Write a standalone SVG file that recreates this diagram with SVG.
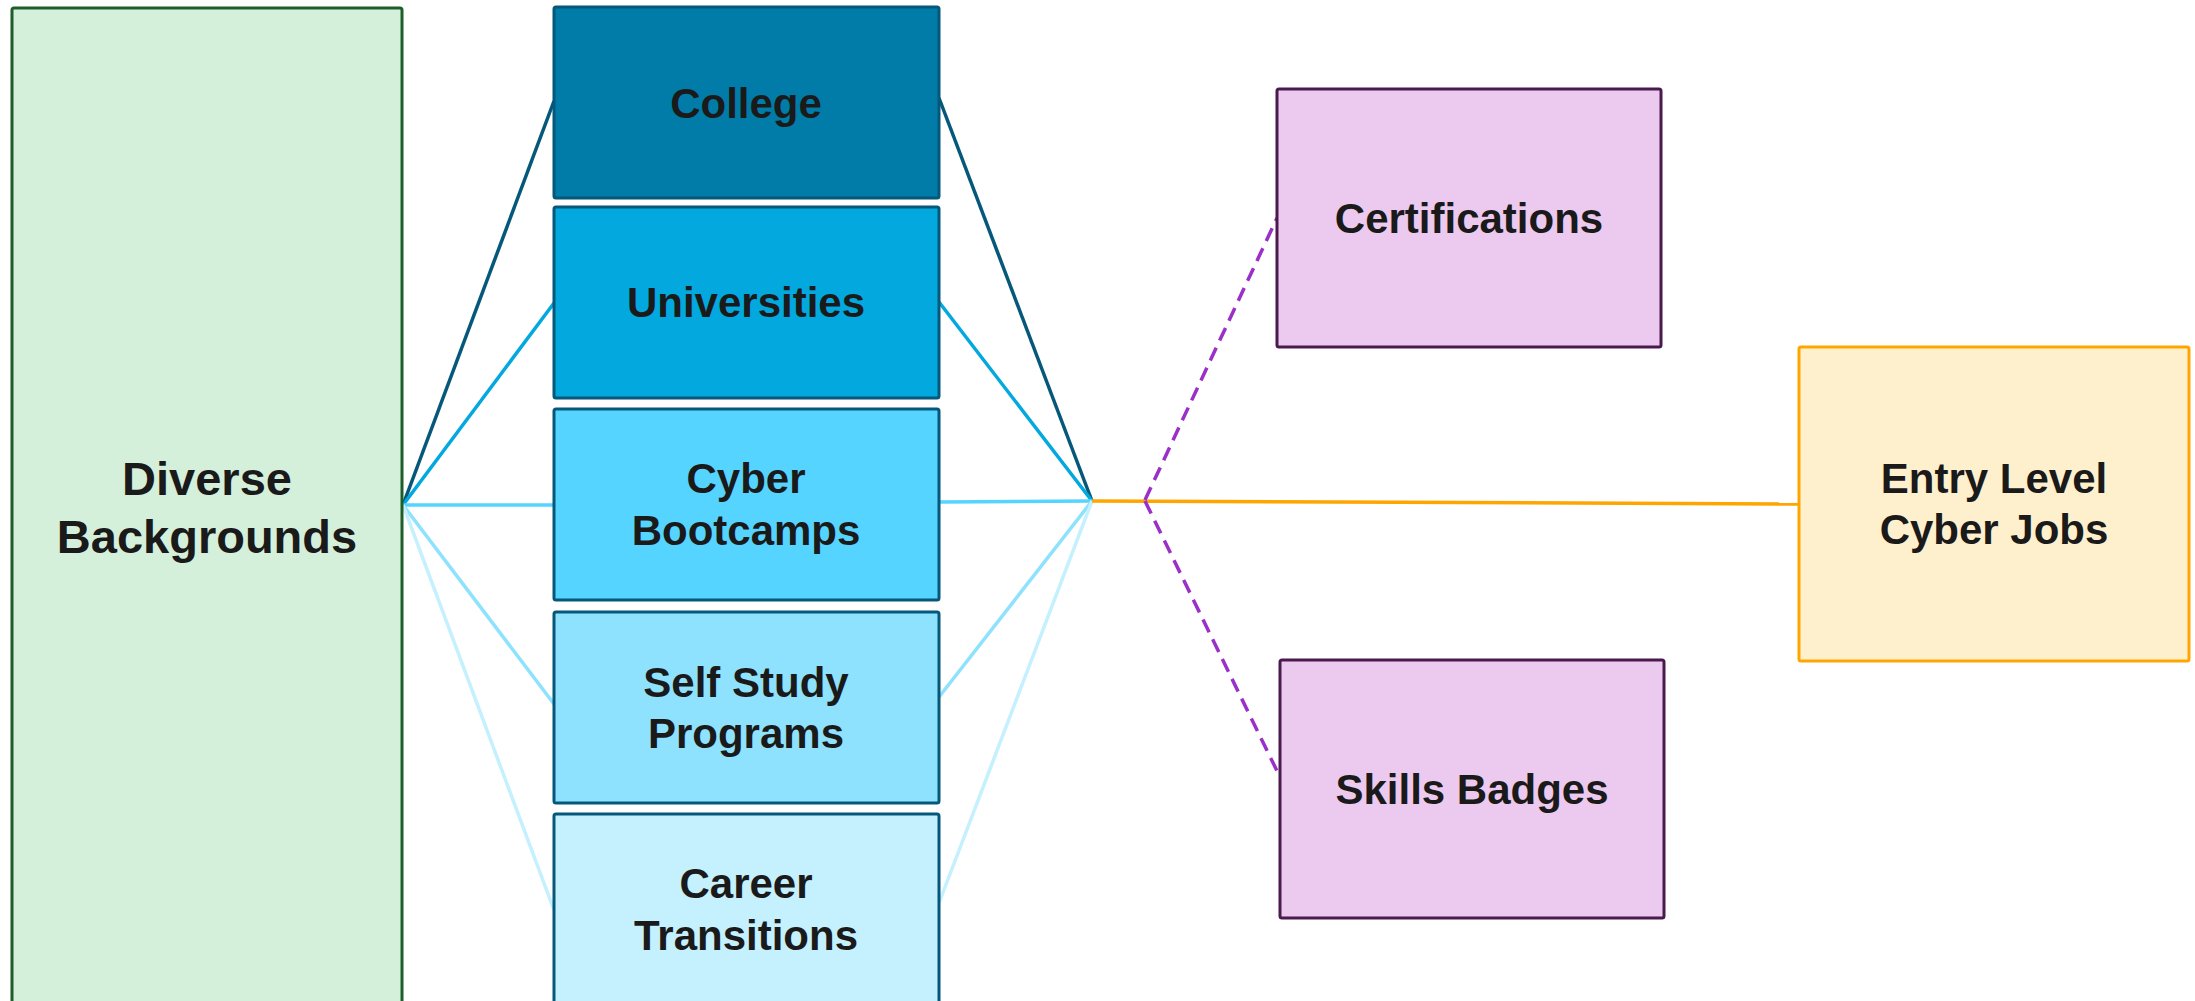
<svg xmlns="http://www.w3.org/2000/svg" width="2195" height="1001" viewBox="0 0 2195 1001">
<style>
text{font-family:"Liberation Sans",Arial,sans-serif;font-weight:bold;fill:#1a1a1a;text-anchor:middle}
.big{font-size:47px}
.lbl{font-size:42px}
.mid{stroke:#05587a;stroke-width:3}
.pur{fill:#ecc9ef;stroke:#4a1a4e;stroke-width:3}
.c{fill:none;stroke-width:3.5}
</style>
<rect width="2195" height="1001" fill="#ffffff"/>
<g id="connectors">
<line class="c" x1="403" y1="505" x2="554" y2="101" stroke="#05587a"/>
<line class="c" x1="403" y1="505" x2="554" y2="303" stroke="#02a8de"/>
<line class="c" x1="403" y1="505" x2="554" y2="505" stroke="#55d4ff"/>
<line class="c" x1="403" y1="505" x2="554" y2="704" stroke="#8ee2fe"/>
<line class="c" x1="403" y1="505" x2="554" y2="910" stroke="#c5f0fe"/>
<line class="c" x1="939" y1="98" x2="1092" y2="501" stroke="#05587a"/>
<line class="c" x1="939" y1="302" x2="1092" y2="501" stroke="#02a8de"/>
<line class="c" x1="939" y1="502" x2="1092" y2="501" stroke="#55d4ff"/>
<line class="c" x1="939" y1="697" x2="1092" y2="501" stroke="#8ee2fe"/>
<line class="c" x1="939" y1="903" x2="1092" y2="501" stroke="#c5f0fe"/>
<line class="c" x1="1092" y1="501" x2="1799" y2="504" stroke="#ffa500" stroke-width="4"/>
<line class="c" x1="1145" y1="500" x2="1277" y2="218" stroke="#9b30c8" stroke-dasharray="14 8"/>
<line class="c" x1="1145" y1="501" x2="1279" y2="775" stroke="#9b30c8" stroke-dasharray="14 8"/>
</g>
<g id="diverse">
<rect x="12" y="8" width="390" height="1000" rx="2" fill="#d5f0da" stroke="#1e5e2a" stroke-width="3"/>
<text class="big" x="207" y="495">Diverse</text>
<text class="big" x="207" y="553">Backgrounds</text>
</g>
<g id="college">
<rect class="mid" x="554" y="7" width="385" height="191" rx="2" fill="#017ca8"/>
<text class="lbl" x="746" y="118">College</text>
</g>
<g id="universities">
<rect class="mid" x="554" y="207" width="385" height="191" rx="2" fill="#02a8de"/>
<text class="lbl" x="746" y="317">Universities</text>
</g>
<g id="bootcamps">
<rect class="mid" x="554" y="409" width="385" height="191" rx="2" fill="#55d4ff"/>
<text class="lbl" x="746" y="493">Cyber</text>
<text class="lbl" x="746" y="545">Bootcamps</text>
</g>
<g id="selfstudy">
<rect class="mid" x="554" y="612" width="385" height="191" rx="2" fill="#8ee2fe"/>
<text class="lbl" x="746" y="697">Self Study</text>
<text class="lbl" x="746" y="748">Programs</text>
</g>
<g id="career">
<rect class="mid" x="554" y="814" width="385" height="194" rx="2" fill="#c5f0fe"/>
<text class="lbl" x="746" y="898">Career</text>
<text class="lbl" x="746" y="950">Transitions</text>
</g>
<g id="certifications">
<rect class="pur" x="1277" y="89" width="384" height="258" rx="2"/>
<text class="lbl" x="1469" y="233">Certifications</text>
</g>
<g id="badges">
<rect class="pur" x="1280" y="660" width="384" height="258" rx="2"/>
<text class="lbl" x="1472" y="804">Skills Badges</text>
</g>
<g id="jobs">
<rect x="1799" y="347" width="390" height="314" rx="2" fill="#fff0cd" stroke="#ffa500" stroke-width="3"/>
<text class="lbl" x="1994" y="493">Entry Level</text>
<text class="lbl" x="1994" y="544">Cyber Jobs</text>
</g>
</svg>
